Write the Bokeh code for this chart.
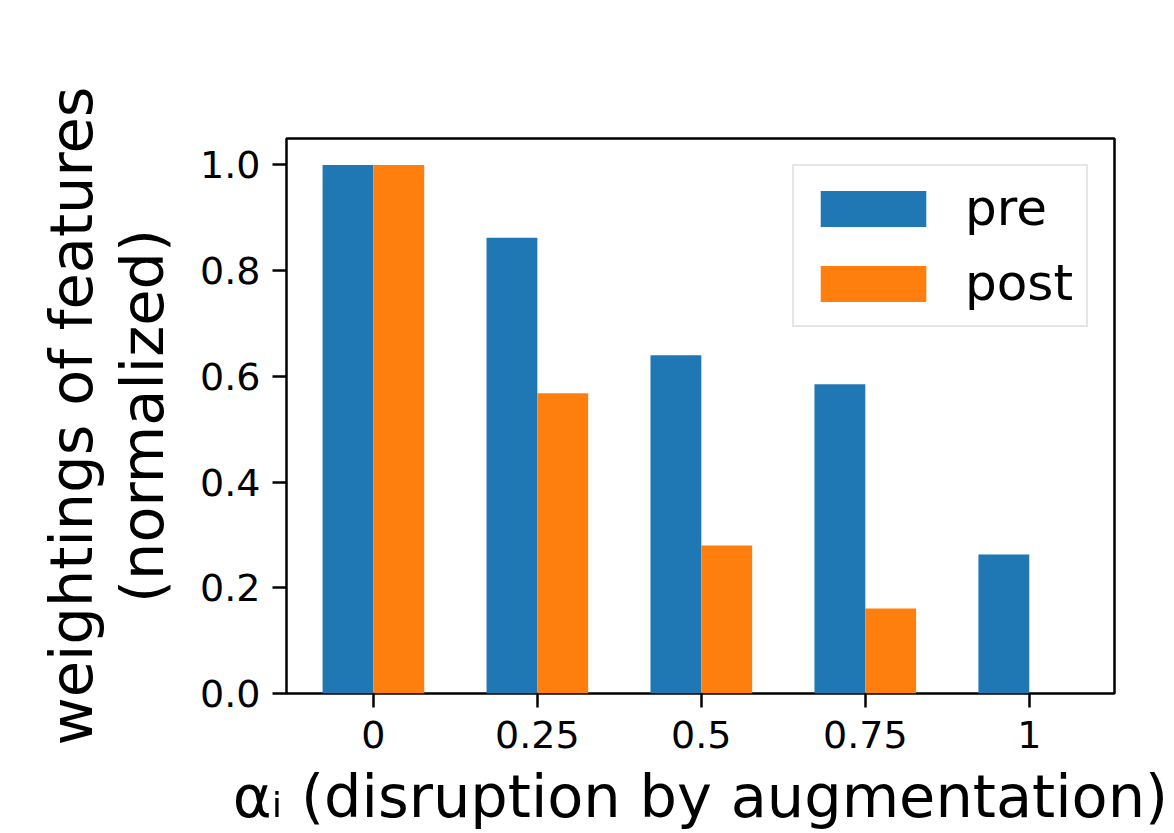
from bokeh.plotting import figure
from bokeh.models import Range1d, FixedTicker, Legend, LegendItem, ColumnDataSource, Title
from bokeh.embed import file_html
from bokeh.resources import INLINE

# ---- data ----
categories = ["0", "0.25", "0.5", "0.75", "1"]
pre_values = [1.0, 0.862, 0.640, 0.585, 0.263]
post_values = [1.0, 0.568, 0.280, 0.161, 0.0]
series_names = ["pre", "post"]
y_tick_values = [0.0, 0.2, 0.4, 0.6, 0.8, 1.0]
x_label = "αᵢ (disruption by augmentation)"
y_label_line1 = "weightings of features"
y_label_line2 = "(normalized)"

BLUE = "#1f77b4"
ORANGE = "#ff7f0e"
FONT = "DejaVu Sans"
BAR_W = 0.31

idx = list(range(len(categories)))
src_pre = ColumnDataSource(dict(x=[i - BAR_W / 2 for i in idx], top=pre_values))
src_post = ColumnDataSource(dict(x=[i + BAR_W / 2 for i in idx], top=post_values))

p = figure(width=1174, height=833, output_backend="svg", toolbar_location=None,
           x_range=Range1d(-0.53, 4.52), y_range=Range1d(0, 1.05),
           min_border_left=286, min_border_right=60, min_border_top=138, min_border_bottom=140)

r_pre = p.vbar(x="x", top="top", width=BAR_W, bottom=0, source=src_pre,
               fill_color=BLUE, line_color=None)
r_post = p.vbar(x="x", top="top", width=BAR_W, bottom=0, source=src_post,
                fill_color=ORANGE, line_color=None)

p.xgrid.visible = False
p.ygrid.visible = False
p.background_fill_color = "white"
p.border_fill_color = "white"
p.outline_line_color = "black"
p.outline_line_width = 2.5

for ax in (p.xaxis[0], p.yaxis[0]):
    ax.axis_line_color = None
    ax.major_tick_line_color = "black"
    ax.major_tick_line_width = 2.5
    ax.major_tick_out = 14
    ax.major_tick_in = 0
    ax.minor_tick_line_color = None
    ax.major_label_text_font = FONT
    ax.major_label_text_font_size = "38px"
    ax.major_label_text_color = "black"
    ax.axis_label_text_font = FONT
    ax.axis_label_text_font_size = "59px"
    ax.axis_label_text_font_style = "normal"
    ax.axis_label_text_color = "black"

p.xaxis.ticker = FixedTicker(ticks=idx)
p.xaxis.major_label_overrides = {i: c for i, c in zip(idx, categories)}
p.xaxis.major_label_standoff = 13
p.xaxis.axis_label = x_label
p.xaxis.axis_label_standoff = 11

p.yaxis.ticker = FixedTicker(ticks=y_tick_values)
p.yaxis.major_label_overrides = {v: f"{v:.1f}" for v in y_tick_values}
p.yaxis.major_label_standoff = 12
p.yaxis.axis_label = y_label_line2
p.yaxis.axis_label_standoff = 20

p.add_layout(Title(text=y_label_line1, align="center", text_font=FONT, text_font_size="59px",
                   text_font_style="normal", text_color="black", standoff=0), "left")

# legend
legend = Legend(items=[LegendItem(label=series_names[0], renderers=[r_pre]),
                       LegendItem(label=series_names[1], renderers=[r_post])],
                location="top_right")
legend.label_text_font = FONT
legend.label_text_font_size = "50px"
legend.label_text_color = "black"
legend.glyph_width = 132
legend.glyph_height = 45
legend.label_height = 45
legend.label_standoff = 26
legend.padding = 13
legend.spacing = 17
legend.margin = 26
legend.border_line_color = "#cccccc"
legend.border_line_width = 2.5
legend.background_fill_color = "white"
legend.background_fill_alpha = 0.9
p.add_layout(legend)

open("out.html", "w").write(file_html(p, INLINE))
